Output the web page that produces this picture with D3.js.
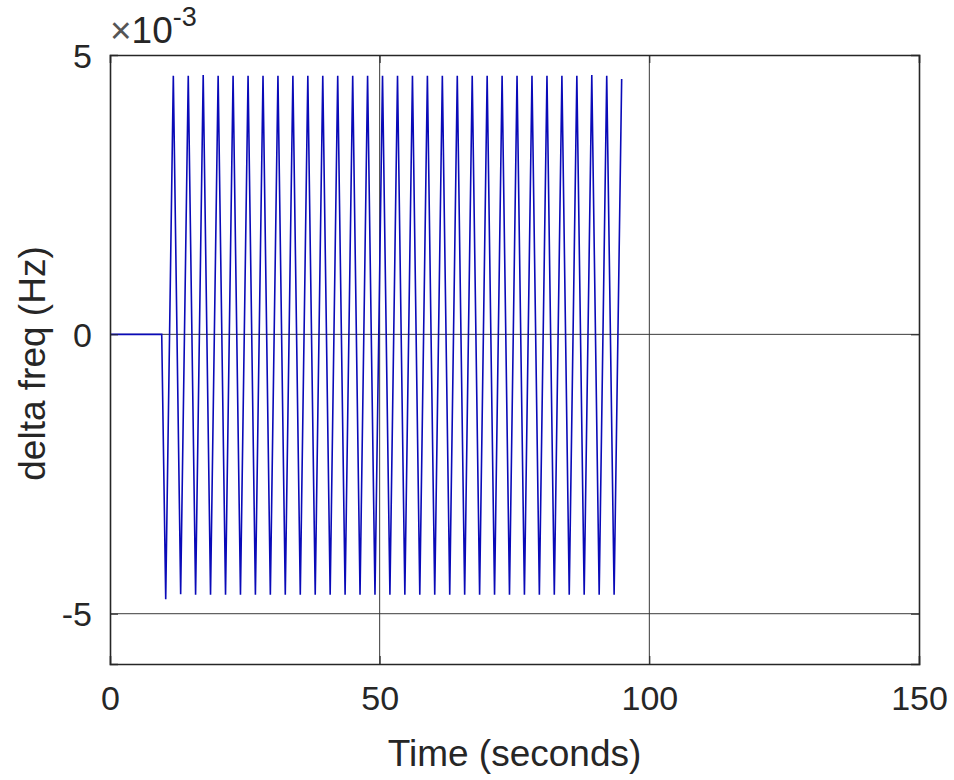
<!DOCTYPE html>
<html>
<head>
<meta charset="utf-8">
<script src="https://cdn.jsdelivr.net/npm/d3@7"></script>
<style>
  body { margin: 0; background: #fff; }
  text { font-family: "Liberation Sans", Arial, sans-serif; fill: #262626; }
</style>
</head>
<body>
<script>
// vertices of the signal (time in s, delta freq in Hz)
var timeVals = [0, 9.59,
    10.33, 11.74, 13.10, 14.51, 15.87, 17.28, 18.64, 20.05, 21.42, 22.82,
    24.19, 25.60, 26.96, 28.37, 29.73, 31.14, 32.50, 33.91, 35.28, 36.68,
    38.05, 39.45, 40.82, 42.22, 43.59, 45.00, 46.36, 47.76, 49.13, 50.53,
    51.90, 53.31, 54.67, 56.08, 57.44, 58.85, 60.21, 61.62, 62.99, 64.39,
    65.76, 67.16, 68.53, 69.93, 71.30, 72.70, 74.07, 75.47, 76.84, 78.24,
    79.61, 81.02, 82.38, 83.79, 85.15, 86.56, 87.92, 89.33, 90.70, 92.10,
    93.47, 94.87];
var deltaVals = [0, 0,
    -4.74e-3, 4.63e-3, -4.65e-3, 4.63e-3, -4.66e-3, 4.64e-3, -4.66e-3, 4.63e-3, -4.66e-3, 4.63e-3,
    -4.66e-3, 4.63e-3, -4.66e-3, 4.63e-3, -4.66e-3, 4.63e-3, -4.66e-3, 4.63e-3, -4.66e-3, 4.63e-3,
    -4.66e-3, 4.63e-3, -4.66e-3, 4.63e-3, -4.66e-3, 4.63e-3, -4.66e-3, 4.63e-3, -4.66e-3, 4.63e-3,
    -4.66e-3, 4.63e-3, -4.66e-3, 4.63e-3, -4.66e-3, 4.63e-3, -4.66e-3, 4.63e-3, -4.66e-3, 4.63e-3,
    -4.66e-3, 4.63e-3, -4.66e-3, 4.63e-3, -4.66e-3, 4.63e-3, -4.66e-3, 4.63e-3, -4.66e-3, 4.63e-3,
    -4.66e-3, 4.63e-3, -4.66e-3, 4.63e-3, -4.66e-3, 4.63e-3, -4.66e-3, 4.64e-3, -4.66e-3, 4.63e-3,
    -4.66e-3, 4.57e-3];

var xTicks = [0, 50, 100, 150];
var yTicks = [-5e-3, 0, 5e-3];
var yTickLabels = ["-5", "0", "5"];

var margin = {top: 55, right: 35, bottom: 116, left: 110},
    width = 954 - margin.left - margin.right,
    height = 780 - margin.top - margin.bottom;

var svg = d3.select("body")
    .append("svg")
    .attr("width", 954)
    .attr("height", 780)
    .append("g")
    .attr("transform", "translate(" + margin.left + "," + margin.top + ")");

var x = d3.scaleLinear().domain([0, 150]).range([0, width]);
var y = d3.scaleLinear().domain([-5.9e-3, 5e-3]).range([height, 0]);

// grid
svg.append("g").selectAll("line.gx")
    .data(xTicks.slice(1, -1))
    .enter().append("line")
    .attr("x1", function(d) { return x(d); })
    .attr("x2", function(d) { return x(d); })
    .attr("y1", 0).attr("y2", height)
    .attr("stroke", "#3a3a3a").attr("stroke-width", 1);

svg.append("g").selectAll("line.gy")
    .data(yTicks.slice(0, -1))
    .enter().append("line")
    .attr("y1", function(d) { return y(d); })
    .attr("y2", function(d) { return y(d); })
    .attr("x1", 0).attr("x2", width)
    .attr("stroke", "#3a3a3a").attr("stroke-width", 1);

// signal
var line = d3.line()
    .x(function(d) { return x(d[0]); })
    .y(function(d) { return y(d[1]); });

svg.append("path")
    .datum(d3.zip(timeVals, deltaVals))
    .attr("fill", "none")
    .attr("stroke", "#0a0ab8")
    .attr("stroke-width", 1.6)
    .attr("stroke-linejoin", "miter")
    .attr("d", line);

// axes, ticks inward
var xAxis = d3.axisBottom(x).tickValues(xTicks).tickSize(-8).tickPadding(22)
    .tickFormat(d3.format("d"));
var yAxis = d3.axisLeft(y).tickValues(yTicks).tickSize(-8).tickPadding(18)
    .tickFormat(function(d, i) { return yTickLabels[i]; });

var gx = svg.append("g").attr("transform", "translate(0," + height + ")").call(xAxis);
var gy = svg.append("g").call(yAxis);
svg.append("g").attr("transform", "translate(0,0)")
    .call(d3.axisTop(x).tickValues(xTicks).tickSize(-8).tickFormat(""));
svg.append("g").attr("transform", "translate(" + width + ",0)")
    .call(d3.axisRight(y).tickValues(yTicks).tickSize(-8).tickFormat(""));

svg.selectAll(".domain").attr("stroke", "#262626").attr("stroke-width", 1.6);
svg.selectAll(".tick line").attr("stroke", "#262626");
gx.selectAll("text").style("font-size", "34px").attr("fill", "#262626")
    .attr("dy", "0.71em");
gy.selectAll("text").style("font-size", "34px").attr("fill", "#262626")
    .attr("dy", "0.36em");

// exponent
var expo = svg.append("text")
    .attr("x", 0).attr("y", -12)
    .style("font-size", "37px");
expo.append("tspan").style("fill", "#555").text("\u00d7");
expo.append("tspan").text("10");
expo.append("tspan").attr("dy", -17).style("font-size", "27px").text("-3");

// labels
svg.append("text")
    .attr("x", width / 2).attr("y", height + 102)
    .attr("text-anchor", "middle")
    .style("font-size", "37px")
    .text("Time (seconds)");

svg.append("text")
    .attr("transform", "translate(" + (45 - margin.left) + "," + (height / 2 + 4) + ") rotate(-90)")
    .attr("text-anchor", "middle")
    .style("font-size", "37px")
    .text("delta freq (Hz)");
</script>
</body>
</html>
